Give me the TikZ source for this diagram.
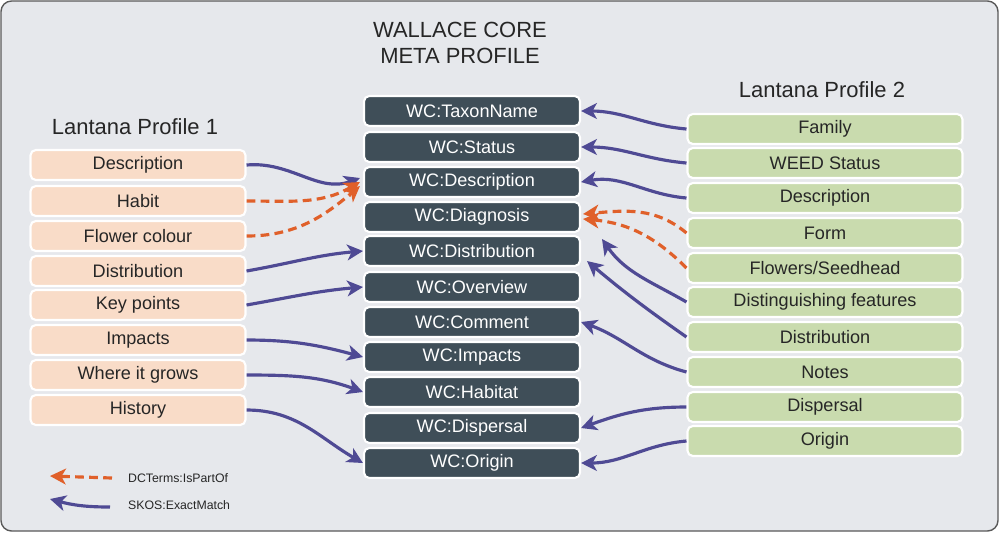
\documentclass[tikz,border=0pt]{standalone}
\usepackage{fontspec}
\setmainfont{Liberation Sans}
\usetikzlibrary{arrows.meta,calc}
\definecolor{bg}{HTML}{E6E8EC}
\definecolor{wc}{HTML}{3F4E58}
\definecolor{lp}{HTML}{F9DCC8}
\definecolor{rp}{HTML}{C9DBAE}
\definecolor{pu}{HTML}{4F4A94}
\definecolor{or}{HTML}{E0602A}
\begin{document}
\begin{tikzpicture}[x=0.02cm,y=-0.02cm,
 box/.style={draw=white,line width=1.2pt,rounded corners=3pt,minimum height=0.6cm,inner sep=0pt,font=\fontsize{10.3}{12}\selectfont},
 wcb/.style={box,fill=wc,text=white,minimum width=4.32cm},
 lb/.style={box,fill=lp,text=black!85,minimum width=4.3cm},
 rb/.style={box,fill=rp,text=black!85,minimum width=5.5cm},
 sk/.style={draw=pu,line width=1.8pt,-{Stealth[length=9pt,width=9pt,inset=2.5pt]}},
 dc/.style={draw=or,line width=1.8pt,dash pattern=on 5pt off 3pt,-{Stealth[length=9pt,width=9pt,inset=2.5pt]}},
 ttl/.style={font=\fontsize{12.5}{15}\selectfont,text=black!85,align=center}]
\useasboundingbox (0,0) rectangle (1000,539);
\draw[fill=bg,draw=black!65,line width=0.8pt,rounded corners=6pt] (1,1) rectangle (998,531);
\node[ttl] (title) at (460,43) {WALLACE CORE\\META PROFILE};
\node[ttl] (p1) at (135,127) {Lantana Profile 1};
\node[ttl] (p2) at (822,90) {Lantana Profile 2};
% center
\node[wcb] (c1) at (472,111) {WC:TaxonName};
\node[wcb] (c2) at (472,147) {WC:Status};
\node[wcb] (c3) at (472,182) {WC:Description};
\node[wcb] (c4) at (472,217) {WC:Diagnosis};
\node[wcb] (c5) at (472,251) {WC:Distribution};
\node[wcb] (c6) at (472,287) {WC:Overview};
\node[wcb] (c7) at (472,322) {WC:Comment};
\node[wcb] (c8) at (472,357) {WC:Impacts};
\node[wcb] (c9) at (472,392) {WC:Habitat};
\node[wcb] (c10) at (472,428) {WC:Dispersal};
\node[wcb] (c11) at (472,463) {WC:Origin};
% left
\node[lb] (l1) at (138,165) {Description};
\node[lb] (l2) at (138,201) {Habit};
\node[lb] (l3) at (138,236) {Flower colour};
\node[lb] (l4) at (138,271) {Distribution};
\node[lb] (l5) at (138,305) {Key points};
\node[lb] (l6) at (138,340) {Impacts};
\node[lb] (l7) at (138,375) {Where it grows};
\node[lb] (l8) at (138,410) {History};
% right
\node[rb] (r1) at (825,129) {Family};
\node[rb] (r2) at (825,163) {WEED Status};
\node[rb] (r3) at (825,198) {Description};
\node[rb] (r4) at (825,233) {Form};
\node[rb] (r5) at (825,268) {Flowers/Seedhead};
\node[rb] (r6) at (825,302) {Distinguishing features};
\node[rb] (r7) at (825,337) {Distribution};
\node[rb] (r8) at (825,372) {Notes};
\node[rb] (r9) at (825,407) {Dispersal};
\node[rb] (r10) at (825,441) {Origin};
% left arrows
\draw[sk] (l1.east) to[out=5,in=200] ($(c3.west)+(-3,-4)$);
\draw[dc] (l2.east) to[out=0,in=210] ($(c3.west)+(-3,0)$);
\draw[dc] (l3.east) to[out=0,in=220] ($(c3.west)+(-3,4)$);
\draw[sk] (l4.east) to[out=10,in=185] (c5.west);
\draw[sk] (l5.east) to[out=10,in=185] (c6.west);
\draw[sk] (l6.east) to[out=0,in=165] (c8.west);
\draw[sk] (l7.east) to[out=0,in=160] (c9.west);
\draw[sk] (l8.east) to[out=0,in=150] (c11.west);
% right arrows
\draw[sk] (r1.west) to[out=175,in=0] (c1.east);
\draw[sk] (r2.west) to[out=175,in=0] (c2.east);
\draw[sk] (r3.west) to[out=175,in=10] (c3.east);
\draw[dc] (r4.west) to[out=140,in=5] ($(c4.east)+(2,-3)$);
\draw[dc] (r5.west) to[out=135,in=-5] ($(c4.east)+(2,2)$);
\draw[sk] (r6.west) to[out=150,in=-55] (602,239);
\draw[sk] (r7.west) to[out=145,in=-40] ($(c5.east)+(6,10)$);
\draw[sk] (r8.west) to[out=165,in=-20] (c7.east);
\draw[sk] (r9.west) to[out=180,in=20] (c10.east);
\draw[sk] (r10.west) to[out=185,in=0] (c11.east);
% legend
\coordinate (la) at (112,478);
\coordinate (lb2) at (50,476);
\coordinate (lc) at (110,507);
\coordinate (ld) at (50,499);
\draw[dc] (la) -- (lb2);
\draw[sk] (lc) to[out=180,in=-15] (ld);
\node[anchor=west,font=\fontsize{7}{8}\selectfont,text=black!85] (t1) at (122,478) {DCTerms:IsPartOf};
\node[anchor=west,font=\fontsize{7}{8}\selectfont,text=black!85] (t2) at (122,505) {SKOS:ExactMatch};
\end{tikzpicture}
\end{document}
